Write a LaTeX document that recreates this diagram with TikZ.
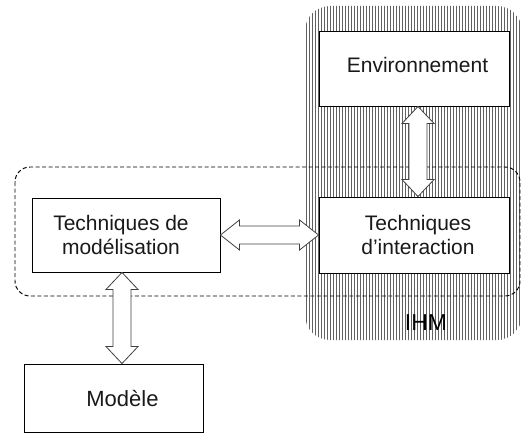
\documentclass[tikz,border=0pt]{standalone}
\usepackage{fontspec}
\setmainfont{Liberation Sans}
\usetikzlibrary{calc}
\begin{document}
\begin{tikzpicture}[x=1pt,y=-1pt,
  box/.style={draw=black,line width=0.9pt,fill=white,inner sep=0pt},
  lbl/.style={inner sep=0pt,font=\fontsize{21}{23.5}\selectfont,text=black!90,align=center},
  blockarrow/.style={draw=black!75,line width=0.8pt,fill=white,line join=miter},
  hatchline/.style={draw=black!62,line width=0.95pt},
  groupframe/.style={draw=black,line width=0.95pt,dash pattern=on 4pt off 2.5pt,rounded corners=15pt}]
\useasboundingbox (0,0) rectangle (522,441);

% IHM area: rounded region filled with vertical hatching
\begin{scope}
  \clip[rounded corners=25pt] (305,6) rectangle (522,340);
  \fill[white] (305,6) rectangle (522,340);
  \foreach \i in {0,...,72} {
    \draw[hatchline] ({306+3*\i},0) -- ({306+3*\i},345);
  }
\end{scope}

% dashed grouping frame
\draw[groupframe] (15,167) rectangle (520,296);

% boxes
\node[box,minimum width=190pt,minimum height=75pt] (env) at (414,68.5) {};
\node[box,minimum width=190pt,minimum height=76pt] (ti) at (414,235) {};
\node[box,minimum width=188pt,minimum height=74pt] (tm) at (126,235) {};
\node[box,minimum width=179pt,minimum height=68pt] (mod) at (113.5,398) {};

% box texts
\node[lbl] (envt) at ($(env.center)+(3.5,-4)$) {Environnement};
\node[lbl] (tit) at ($(ti.center)+(4,0)$) {Techniques\\d’interaction};
\node[lbl] (tmt) at ($(tm.center)+(-5,0)$) {Techniques de\\modélisation};
\node[lbl,font=\fontsize{22}{24}\selectfont] (modt) at ($(mod.center)+(9,1)$) {Modèle};

\node[font=\fontsize{23}{26}\selectfont,text=black,inner sep=0pt] (ihm) at (426,323) {IHM};

% double block arrows between boxes
\coordinate (a1) at ($(env.south)+(4,0)$);
\coordinate (a2) at (ti.north -| a1);
\draw[blockarrow] let \p1=(a1), \p2=(a2) in
  (\x1,\y1) -- (\x1-16pt,\y1-17pt) -- (\x1-9pt,\y1-17pt) -- (\x1-9pt,\y2+17pt)
  -- (\x1-16pt,\y2+17pt) -- (\x2,\y2) -- (\x1+16pt,\y2+17pt) -- (\x1+9pt,\y2+17pt)
  -- (\x1+9pt,\y1-17pt) -- (\x1+16pt,\y1-17pt) -- cycle;

\coordinate (b1) at (tm.east);
\coordinate (b2) at (ti.west);
\draw[blockarrow] let \p1=(b1), \p2=(b2) in
  (\x1,\y1) -- (\x1+19pt,\y1+15pt) -- (\x1+19pt,\y1+9pt) -- (\x2-19pt,\y1+9pt)
  -- (\x2-19pt,\y1+15pt) -- (\x2,\y2) -- (\x2-19pt,\y1-15pt) -- (\x2-19pt,\y1-9pt)
  -- (\x1+19pt,\y1-9pt) -- (\x1+19pt,\y1-15pt) -- cycle;

\coordinate (c1) at ($(tm.south)+(-4,0)$);
\coordinate (c2) at (mod.north -| c1);
\draw[blockarrow] let \p1=(c1), \p2=(c2) in
  (\x1,\y1) -- (\x1-16pt,\y1-17pt) -- (\x1-9pt,\y1-17pt) -- (\x1-9pt,\y2+17pt)
  -- (\x1-16pt,\y2+17pt) -- (\x2,\y2) -- (\x1+16pt,\y2+17pt) -- (\x1+9pt,\y2+17pt)
  -- (\x1+9pt,\y1-17pt) -- (\x1+16pt,\y1-17pt) -- cycle;
\end{tikzpicture}
\end{document}
